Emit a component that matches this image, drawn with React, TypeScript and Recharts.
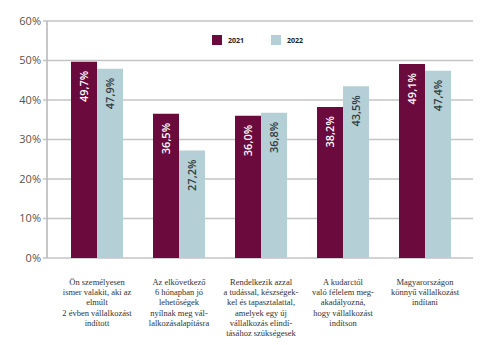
import React from 'react';
import { BarChart, Bar, XAxis, YAxis, CartesianGrid, LabelList } from 'recharts';

const categories = [
  'Ön személyesen|ismer valakit, aki az|elmúlt|2 évben vállalkozást|indított',
  'Az elkövetkező|6 hónapban jó|lehetőségek|nyílnak meg vál-|lalkozásalapításra',
  'Rendelkezik azzal|a tudással, készségek-|kel és tapasztalattal,|amelyek egy új|vállalkozás elindí-|tásához szükségesek',
  'A kudarctól|való félelem meg-|akadályozná,|hogy vállalkozást|indítson',
  'Magyarországon|könnyű vállalkozást|indítani',
];
const values2021 = [49.7, 36.5, 36.0, 38.2, 49.1];
const values2022 = [47.9, 27.2, 36.8, 43.5, 47.4];
const yTicks = [0, 10, 20, 30, 40, 50, 60];
const seriesNames = ['2021', '2022'];

const MAROON = '#6b0a3c';
const LIGHT = '#b5cfd6';

const data = categories.map((name, i) => ({
  name,
  y2021: values2021[i],
  y2022: values2022[i],
}));

const fmt = (v: number) => v.toFixed(1).replace('.', ',') + '%';

const CategoryTick = (props: any) => {
  const { x, y, payload } = props;
  const lines: string[] = String(payload.value).split('|');
  return (
    <text
      x={x}
      y={y + 19}
      textAnchor="middle"
      fontFamily="'Liberation Serif', serif"
      fontSize={8.5}
      fill="#333"
    >
      {lines.map((l, i) => (
        <tspan key={i} x={x} dy={i === 0 ? 0 : 10.2}>
          {l}
        </tspan>
      ))}
    </text>
  );
};

const makeLabel = (color: string) => (props: any) => {
  const { x, y, width, value } = props;
  const cx = x + width / 2 + 4;
  const cy = y + 9;
  return (
    <text
      x={cx}
      y={cy}
      transform={`rotate(-90, ${cx}, ${cy})`}
      textAnchor="end"
      fontFamily="'Open Sans', sans-serif"
      fontWeight={600}
      fontSize={11}
      fill={color}
    >
      {fmt(value)}
    </text>
  );
};

const LegendBox = () => (
  <div
    style={{
      position: 'absolute',
      top: 35,
      left: 212,
      display: 'flex',
      alignItems: 'center',
      fontFamily: "'Open Sans', sans-serif",
      fontSize: 7,
      fontWeight: 700,
      color: '#222',
    }}
  >
    <span style={{ width: 10, height: 10, background: MAROON, display: 'inline-block', marginRight: 6 }} />
    <span style={{ marginRight: 27 }}>{seriesNames[0]}</span>
    <span style={{ width: 10, height: 10, background: LIGHT, display: 'inline-block', marginRight: 6 }} />
    <span>{seriesNames[1]}</span>
  </div>
);

export default function App() {
  return (
    <div style={{ position: 'absolute', left: 0, top: 0, width: 500, height: 345, background: '#fff' }}>
      <BarChart
        width={500}
        height={345}
        data={data}
        margin={{ top: 21, right: 27, bottom: 0, left: 0 }}
        barGap={0}
        barCategoryGap={15}
      >
        <CartesianGrid vertical={false} stroke="#c4c4c4" strokeWidth={1.5} />
        <XAxis
          dataKey="name"
          axisLine={false}
          tickLine={false}
          interval={0}
          tick={<CategoryTick />}
          padding={{ left: 9, right: 7 }}
          height={87}
        />
        <YAxis
          width={47}
          domain={[0, 60]}
          ticks={yTicks}
          tickFormatter={(v: number) => `${v}%`}
          axisLine={{ stroke: '#b5b5b5', strokeWidth: 1.5 }}
          tickLine={{ stroke: '#c4c4c4', strokeWidth: 1.5 }}
          tickSize={4}
          tick={{ fontFamily: "'Open Sans', sans-serif", fontSize: 11, fill: '#5e5146' }}
        />
        <Bar dataKey="y2021" name={seriesNames[0]} fill={MAROON} isAnimationActive={false}>
          <LabelList dataKey="y2021" content={makeLabel('#ffffff')} />
        </Bar>
        <Bar dataKey="y2022" name={seriesNames[1]} fill={LIGHT} isAnimationActive={false}>
          <LabelList dataKey="y2022" content={makeLabel('#2f3a40')} />
        </Bar>
      </BarChart>
      <LegendBox />
    </div>
  );
}
